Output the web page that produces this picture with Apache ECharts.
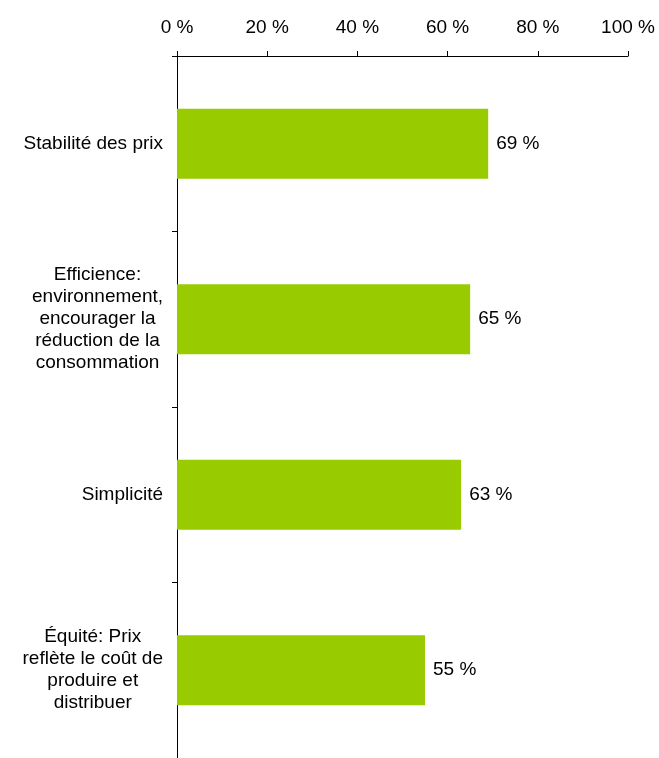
<!DOCTYPE html>
<html>
<head>
<meta charset="utf-8">
<script src="https://cdn.jsdelivr.net/npm/echarts@6/dist/echarts.min.js"></script>
<style>
  html, body { margin: 0; padding: 0; background: #ffffff; }
  #chart { width: 659px; height: 758px; }
</style>
</head>
<body>
<div id="chart"></div>
<script>
// Categories (top to bottom) and their shares in percent
const categories = [
  'Stabilité des prix',
  'Efficience:\nenvironnement,\nencourager la\nréduction de la\nconsommation',
  'Simplicité',
  'Équité: Prix\nreflète le coût de\nproduire et\ndistribuer'
];
const values = [69, 65, 63, 55];
const axisMin = 0;
const axisMax = 100;
const axisStep = 20;

const FONT = '"Liberation Sans", Arial, sans-serif';
const FS = 19;
const LH = 22;

const chart = echarts.init(document.getElementById('chart'), null, { renderer: 'canvas' });

chart.setOption({
  animation: false,
  backgroundColor: '#ffffff',
  textStyle: { fontFamily: FONT, color: '#000' },
  grid: { left: 177, right: 31, top: 56, bottom: -4, containLabel: false },
  xAxis: {
    type: 'value',
    position: 'top',
    min: axisMin,
    max: axisMax,
    interval: axisStep,
    axisLine: { show: true, lineStyle: { color: '#000', width: 1 } },
    axisTick: { show: true, length: 5, lineStyle: { color: '#000' } },
    splitLine: { show: false },
    axisLabel: {
      formatter: '{value} %',
      color: '#000',
      fontFamily: FONT,
      fontSize: FS,
      margin: 19
    }
  },
  yAxis: {
    type: 'category',
    inverse: true,
    data: categories,
    axisLine: { show: true, lineStyle: { color: '#000', width: 1 } },
    axisTick: { show: true, length: 5, lineStyle: { color: '#000' } },
    splitLine: { show: false },
    axisLabel: {
      margin: 14,
      color: '#000',
      fontFamily: FONT,
      fontSize: FS,
      lineHeight: LH,
      formatter: function (v) {
        return v.split('\n').map(function (s) { return '{c|' + s + '}'; }).join('\n');
      },
      rich: {
        c: { align: 'center', color: '#000', fontFamily: FONT, fontSize: FS, lineHeight: LH }
      }
    }
  },
  series: [{
    type: 'bar',
    data: values,
    barCategoryGap: '60%',
    itemStyle: { color: '#99CC00' },
    label: {
      show: true,
      position: 'right',
      distance: 8,
      formatter: '{c} %',
      color: '#000',
      fontFamily: FONT,
      fontSize: FS
    }
  }]
});
</script>
</body>
</html>
